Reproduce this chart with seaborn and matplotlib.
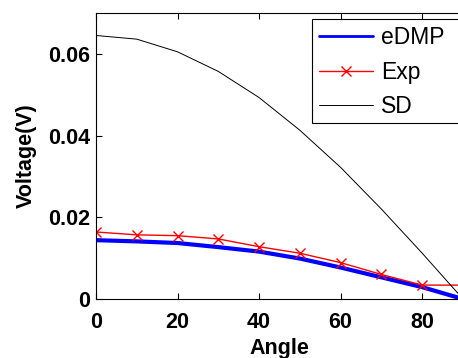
import numpy as np
import pandas as pd
import matplotlib
matplotlib.use("Agg")
import matplotlib.pyplot as plt
from matplotlib.patches import Rectangle
import seaborn as sns

# Measured and modelled voltage versus incidence angle
angle = [0, 10, 20, 30, 40, 50, 60, 70, 80, 90]
edmp = [0.0144, 0.0141, 0.0137, 0.0127, 0.0116, 0.0099, 0.0077, 0.0053, 0.0029, 0.0000]
exp_v = [0.0164, 0.0157, 0.0155, 0.0147, 0.0128, 0.0112, 0.0089, 0.0060, 0.0034, 0.0034]
sd = [0.0645, 0.0636, 0.0605, 0.0557, 0.0493, 0.0413, 0.0322, 0.0220, 0.0112, 0.0000]

x_ticks = [0, 20, 40, 60, 80]
y_ticks = [0, 0.02, 0.04, 0.06]
y_tick_labels = ["0", "0.02", "0.04", "0.06"]

sns.set_theme(style="ticks")
plt.rcParams["font.family"] = ["Liberation Sans", "DejaVu Sans"]
plt.rcParams["xtick.direction"] = "in"
plt.rcParams["ytick.direction"] = "in"
plt.rcParams["text.color"] = "black"
plt.rcParams["axes.labelcolor"] = "black"

df = pd.DataFrame({"Angle": angle, "eDMP": edmp, "Exp": exp_v, "SD": sd})

W, H = 458, 358
fig = plt.figure(figsize=(W / 100, H / 100), dpi=100)
ax = fig.add_axes([96 / W, (H - 299) / H, (463 - 96) / W, (299 - 13) / H])

sns.lineplot(data=df, x="Angle", y="eDMP", ax=ax, color="#0000ff", lw=3.0,
             label="eDMP")
sns.lineplot(data=df, x="Angle", y="Exp", ax=ax, color="#ff0000", lw=1.0,
             marker="x", markersize=7, markeredgewidth=1.0,
             markeredgecolor="#ff0000", label="Exp")
sns.lineplot(data=df, x="Angle", y="SD", ax=ax, color="#000000", lw=0.7,
             label="SD")

ax.set_xlim(0, 90)
ax.set_ylim(0, 0.07)
ax.set_xticks(x_ticks)
ax.set_yticks(y_ticks)
ax.set_yticklabels(y_tick_labels)

FS = 15.5
for s in ax.spines.values():
    s.set_linewidth(0.8)
    s.set_color("black")
ax.tick_params(axis="both", which="both", length=4, width=0.8,
               top=True, right=False, labelsize=FS, colors="black")
ax.tick_params(axis="x", pad=9)
ax.tick_params(axis="y", pad=4)
for lab in ax.get_xticklabels() + ax.get_yticklabels():
    lab.set_fontweight("bold")

ax.set_xlabel("Angle", fontsize=FS, fontweight="bold", labelpad=4)
ax.set_ylabel("Voltage(V)", fontsize=FS, fontweight="bold", labelpad=8)

leg = ax.legend(loc="upper left", bbox_to_anchor=(312 / W, 1 - 19 / H),
                bbox_transform=fig.transFigure, fancybox=False, frameon=True,
                edgecolor="black", framealpha=1, fontsize=16.5, numpoints=1,
                handlelength=2.35, labelspacing=0.51, borderpad=0.3,
                handletextpad=0.35, borderaxespad=0)
leg.get_frame().set_linewidth(0.8)
for line in leg.get_lines():
    line.set_linewidth(min(line.get_linewidth(), 2.0))

# Legend box runs on past the right edge of the figure
fig.canvas.draw()
bb = leg.get_window_extent()
leg.set_frame_on(False)
box = Rectangle((bb.x0 / W, (bb.y0 + 2) / H), (W + 10 - bb.x0) / W,
                (bb.y1 - bb.y0 - 2) / H,
                transform=fig.transFigure, facecolor="white", edgecolor="black",
                linewidth=0.8, zorder=4)
fig.add_artist(box)
leg.set_zorder(5)
fig.legends.append(ax.legend_)
ax.legend_ = None

fig.savefig("out.png", dpi=100)
